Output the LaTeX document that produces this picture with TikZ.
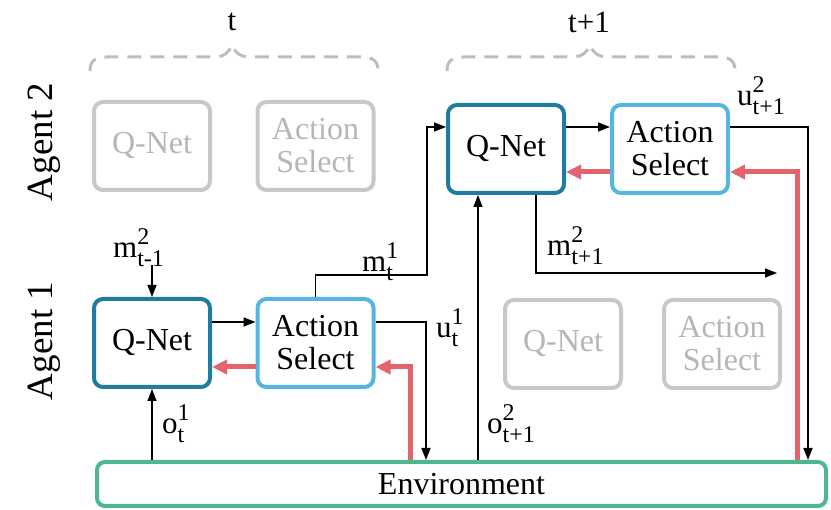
\documentclass[tikz,border=0pt]{standalone}
\usepackage{fontspec}
\setmainfont{LiberationSerif}[Extension=.ttf, UprightFont=*-Regular, BoldFont=*-Bold, ItalicFont=*-Italic, BoldItalicFont=*-BoldItalic]
\usetikzlibrary{arrows.meta}
\definecolor{qcol}{HTML}{1F7C9E}
\definecolor{acol}{HTML}{55B7E0}
\definecolor{envcol}{HTML}{4DB88E}
\definecolor{redc}{HTML}{E4646E}
\definecolor{grayb}{HTML}{C8C8C8}
\definecolor{grayt}{HTML}{B6B6B6}
\definecolor{braceg}{HTML}{BDBDBD}
\newcommand{\supsub}[3]{#1\rlap{\raisebox{0.42em}{\fontsize{24}{24}\selectfont #2}}{\raisebox{-0.28em}{\fontsize{24}{24}\selectfont #3}}}
\tikzset{
  box/.style={draw, line width=4pt, rounded corners=9pt, fill=white,
    minimum width=116pt, minimum height=88pt, align=center, inner sep=0pt,
    font=\rmfamily\fontsize{32}{33}\selectfont},
  qbox/.style={box, draw=qcol},
  abox/.style={box, draw=acol},
  gbox/.style={box, draw=grayb, text=grayt},
  conn/.style={line width=1.5pt, -{Triangle[length=12pt,width=9pt]}},
  redarr/.style={draw=redc, line width=5pt, -{Triangle[length=15pt,width=14pt]}},
  bracestyle/.style={draw=braceg, line width=3pt, dash pattern=on 14pt off 9pt},
  lbl/.style={font=\rmfamily\fontsize{31}{33}\selectfont, inner sep=0pt},
  agent/.style={font=\rmfamily\fontsize{37}{37}\selectfont, rotate=90, inner sep=0pt}
}
\begin{document}
\begin{tikzpicture}[x=1pt, y=-1pt]
\useasboundingbox (0,0) rectangle (831,510);
% braces
\draw[bracestyle] (90,71) .. controls (90,61) and (95,57) .. (106,57) -- (214,57) .. controls (225,57) and (230,51) .. (232,45) .. controls (234,51) and (239,57) .. (250,57) -- (362,57) .. controls (373,57) and (378,61) .. (378,71);
\draw[bracestyle] (447,71) .. controls (447,61) and (452,57) .. (463,57) -- (572,57) .. controls (583,57) and (588,51) .. (590,45) .. controls (592,51) and (597,57) .. (608,57) -- (719,57) .. controls (730,57) and (735,61) .. (735,71);
\node[lbl] (tlab) at (232,22) {t};
\node[lbl] (t1lab) at (589,22) {t+1};
% agent labels
\node[agent] (ag2) at (44,142) {Agent 2};
\node[agent] (ag1) at (44,341) {Agent 1};
% boxes
\node[gbox] (g2q) at (152,146) {Q-Net};
\node[gbox] (g2a) at (315.5,146) {Action\\Select};
\node[qbox] (q1) at (152,343) {Q-Net};
\node[abox] (a1) at (315.5,343) {Action\\Select};
\node[qbox] (q2) at (506,149) {Q-Net};
\node[abox] (a2) at (670,149) {Action\\Select};
\node[gbox] (g1q) at (563,344) {Q-Net};
\node[gbox] (g1a) at (722,344) {Action\\Select};
\node[draw=envcol, line width=4pt, rounded corners=8pt, fill=white,
  minimum width=729pt, minimum height=44pt, inner sep=0pt,
  font=\rmfamily\fontsize{32}{33}\selectfont] (env) at (461.5,484) {Environment};
% free ends
\coordinate (min) at (152,265);
\coordinate (mend) at (777,273);
% agent 1 connectors
\draw[conn] (min) -- (q1.north);
\draw[conn] (q1.east |- 0,322) -- (a1.west |- 0,322);
\draw[redarr] (a1.west |- 0,367) -- (q1.east |- 0,367);
\draw[redarr] (env.north -| 410,0) |- (a1.east |- 0,367);
\draw[conn] (env.north -| 152,0) -- (q1.south);
\draw[conn] (a1.north) |- (427,275) |- (q2.west |- 0,127);
\draw[conn] (a1.east |- 0,322) -| (env.north -| 426,0);
% agent 2 connectors
\draw[conn] (env.north -| 478,0) -- (q2.south -| 478,0);
\draw[conn] (q2.south -| 536,0) |- (mend);
\draw[conn] (q2.east |- 0,127) -- (a2.west |- 0,127);
\draw[redarr] (a2.west |- 0,172) -- (q2.east |- 0,172);
\draw[redarr] (env.north -| 797,0) |- (a2.east |- 0,172);
\draw[conn] (a2.east |- 0,127) -| (env.north -| 808,0);
% labels
\node[lbl, anchor=base west] (lm1) at (113,258) {\supsub{m}{2}{t-1}};
\node[lbl, anchor=base west] (lm2) at (362,272) {\supsub{m}{1}{t}};
\node[lbl, anchor=base west] (lu1) at (436,338) {\supsub{u}{1}{t}};
\node[lbl, anchor=base west] (lo1) at (162,434) {\supsub{o}{1}{t}};
\node[lbl, anchor=base west] (lo2) at (487,434) {\supsub{o}{2}{t+1}};
\node[lbl, anchor=base west] (lm3) at (547,256) {\supsub{m}{2}{t+1}};
\node[lbl, anchor=base west] (lu2) at (737,106) {\supsub{u}{2}{t+1}};
\end{tikzpicture}
\end{document}
